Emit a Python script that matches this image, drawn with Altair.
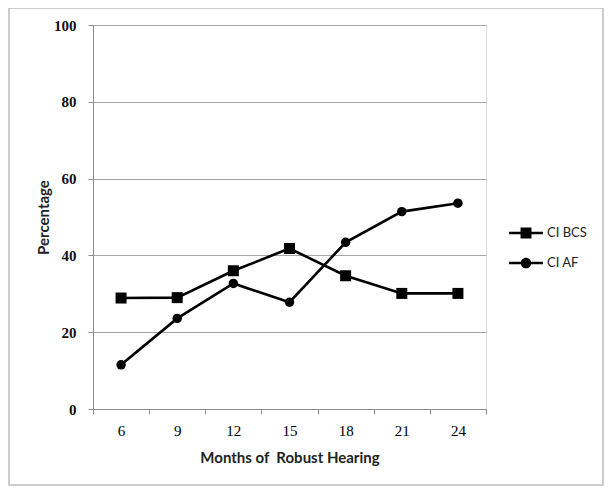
import altair as alt
import pandas as pd

months = [6, 9, 12, 15, 18, 21, 24]
series_names = ["CI BCS", "CI AF"]
ci_bcs = [28.9, 29.0, 36.0, 41.8, 34.7, 30.1, 30.1]
ci_af = [11.5, 23.6, 32.7, 27.8, 43.4, 51.4, 53.6]
y_ticks = [0, 20, 40, 60, 80, 100]

rows = []
for m, v in zip(months, ci_bcs):
    rows.append({"month": m, "series": "CI BCS", "value": v})
for m, v in zip(months, ci_af):
    rows.append({"month": m, "series": "CI AF", "value": v})
df = pd.DataFrame(rows)

W, H = 393, 384

x_enc = alt.X(
    "month:O",
    bandPosition=0.5,
    sort=months,
    scale=alt.Scale(type="band", paddingInner=0, paddingOuter=0),
    axis=alt.Axis(
        title="Months of\u00a0 Robust Hearing",
        labelAngle=0,
        tickBand="extent",
        tickSize=5,
        labelPadding=9,
        labelFont="Liberation Serif",
        labelFontSize=15,
        labelColor="#000000",
        titleFont="Lato",
        titleFontSize=15,
        titleFontWeight="bold",
        titleColor="#222222",
        titleX=W / 2,
        titleY=48,
        titleBaseline="middle",
        domainColor="#8c8c8c",
        tickColor="#8c8c8c",
        grid=False,
    ),
)
y_enc = alt.Y(
    "value:Q",
    scale=alt.Scale(domain=[0, 100], nice=False),
    axis=alt.Axis(
        title="Percentage",
        values=y_ticks,
        tickSize=5,
        labelPadding=12,
        labelFont="Liberation Serif",
        labelFontSize=15,
        labelFontWeight="bold",
        labelColor="#111111",
        titleFont="Lato",
        titleFontSize=15,
        titleFontWeight="bold",
        titleColor="#222222",
        titleX=-50,
        titleY=192,
        titleBaseline="middle",
        domainColor="#8c8c8c",
        tickColor="#8c8c8c",
        grid=True,
        gridColor="#a6a6a6",
        gridWidth=1,
    ),
)

# legend symbols: line segments either side of a filled marker (all filled paths)
sq_path = ("M-1.21,-0.09H-0.39V0.09H-1.21Z"
           "M0.39,-0.09H1.21V0.09H0.39Z"
           "M-0.39,-0.39H0.39V0.39H-0.39Z")
ci_path = ("M-1.21,-0.09H-0.36V0.09H-1.21Z"
           "M0.36,-0.09H1.21V0.09H0.36Z"
           "M0.38,0A0.38,0.38 0 1 1 -0.38,0A0.38,0.38 0 1 1 0.38,0Z")

lines = alt.Chart(df).mark_line(color="black", strokeWidth=2.6).encode(
    x=x_enc, y=y_enc, detail="series:N"
)

points = alt.Chart(df).mark_point(filled=True, color="black", opacity=1).encode(
    x=x_enc,
    y=y_enc,
    shape=alt.Shape(
        "series:N",
        scale=alt.Scale(domain=series_names, range=["square", "circle"]),
        legend=None,
    ),
    size=alt.Size(
        "series:N",
        scale=alt.Scale(domain=series_names, range=[121, 90]),
        legend=None,
    ),
)

legend_layer = alt.Chart(df).mark_point(
    filled=True, color="black", opacity=0
).encode(
    x=x_enc,
    y=y_enc,
    shape=alt.Shape(
        "series:N",
        scale=alt.Scale(domain=series_names, range=[sq_path, ci_path]),
        legend=alt.Legend(
            title=None,
            orient="none",
            legendX=419,
            legendY=194,
            symbolSize=784,
            symbolOpacity=1,
            symbolFillColor="black",
            symbolStrokeWidth=0,
            labelOffset=7,
            rowPadding=9,
            labelFont="Lato",
            labelFontSize=13,
            labelColor="#222222",
        ),
    ),
)

border = alt.Chart(pd.DataFrame({"a": [0]})).mark_rect(
    fill="transparent", stroke="#bdbdbd", strokeWidth=1.5
).encode(
    x=alt.value(-84), x2=alt.value(510), y=alt.value(-17), y2=alt.value(460)
)

chart = (
    alt.layer(border, lines, points, legend_layer)
    .resolve_scale(shape="independent", size="independent")
    .properties(
        width=W,
        height=H,
        autosize=alt.AutoSizeParams(type="none"),
        padding={"left": 85, "top": 17, "right": 118, "bottom": 77},
    )
    .configure_view(strokeWidth=0)
    .configure(background="white")
)

chart.save("out.html", embed_options={"renderer": "svg", "actions": False})
